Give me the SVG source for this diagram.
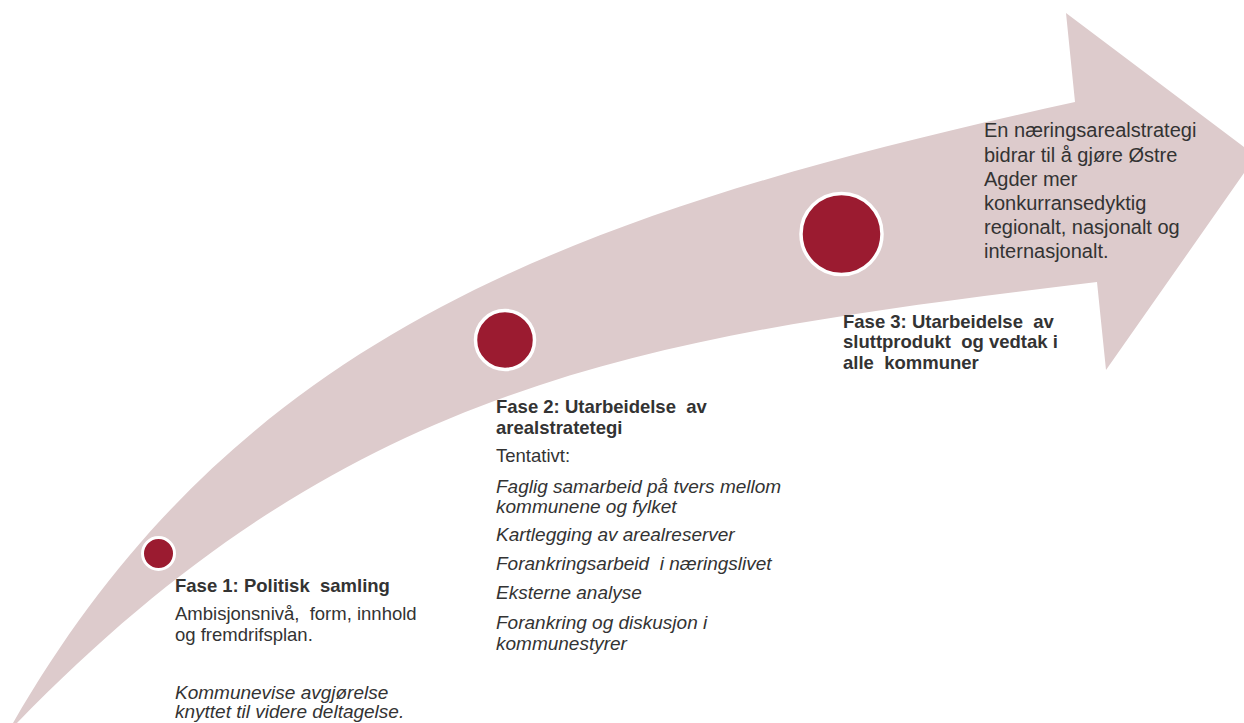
<svg xmlns="http://www.w3.org/2000/svg" width="1244" height="723" viewBox="0 0 1244 723">
<style>
.arrow{fill:#DDCBCC}
.dot{fill:#9B1B30;stroke:#FFFFFF}
text{font-family:"Liberation Sans",Arial,sans-serif;fill:#333333}
.b{font-weight:bold;font-size:18.5px}
.r{font-size:18.5px}
.i{font-size:19px;font-style:italic}
.big{font-size:20px}
</style>
<rect width="1244" height="723" fill="#FFFFFF"/>
<g id="arrow">
<path class="arrow" d="M 13 723 C 238 332 575 212 1075 102 L 1066 13 L 1256 156 L 1106 370 L 1097 282 C 647 336 350 380 17 723 Z"/>
</g>
<g id="connectors"></g>
<g id="phase1">
<circle class="dot" cx="158.5" cy="553.5" r="16" stroke-width="3"/>
<text x="175" y="591.5" class="b" xml:space="preserve">Fase 1: Politisk  samling</text>
<text x="175" y="620" class="r" xml:space="preserve">Ambisjonsnivå,  form, innhold</text>
<text x="175" y="640.7" class="r">og fremdrifsplan.</text>
<text x="175" y="699" class="i">Kommunevise avgjørelse</text>
<text x="175" y="717.7" class="i">knyttet til videre deltagelse.</text>
</g>
<g id="phase2">
<circle class="dot" cx="505" cy="340" r="29.5" stroke-width="3.5"/>
<text x="496" y="413.3" class="b" xml:space="preserve">Fase 2: Utarbeidelse  av</text>
<text x="496" y="434" class="b">arealstratetegi</text>
<text x="496" y="461.7" class="r">Tentativt:</text>
<text x="496" y="492.7" class="i">Faglig samarbeid på tvers mellom</text>
<text x="496" y="512.7" class="i">kommunene og fylket</text>
<text x="496" y="541" class="i">Kartlegging av arealreserver</text>
<text x="496" y="570" class="i" xml:space="preserve">Forankringsarbeid  i næringslivet</text>
<text x="496" y="599.3" class="i">Eksterne analyse</text>
<text x="496" y="629.3" class="i">Forankring og diskusjon i</text>
<text x="496" y="650" class="i">kommunestyrer</text>
</g>
<g id="phase3">
<circle class="dot" cx="841.5" cy="234" r="40.5" stroke-width="3.5"/>
<text x="843" y="328.3" class="b" xml:space="preserve">Fase 3: Utarbeidelse  av</text>
<text x="843" y="348.3" class="b" xml:space="preserve">sluttprodukt  og vedtak i</text>
<text x="843" y="369.3" class="b" xml:space="preserve">alle  kommuner</text>
</g>
<g id="goal">
<text x="984" y="137.3" class="big">En næringsarealstrategi</text>
<text x="984" y="161.7" class="big">bidrar til å gjøre Østre</text>
<text x="984" y="185.7" class="big">Agder mer</text>
<text x="984" y="210" class="big">konkurransedyktig</text>
<text x="984" y="234.3" class="big">regionalt, nasjonalt og</text>
<text x="984" y="258.3" class="big">internasjonalt.</text>
</g>
</svg>
